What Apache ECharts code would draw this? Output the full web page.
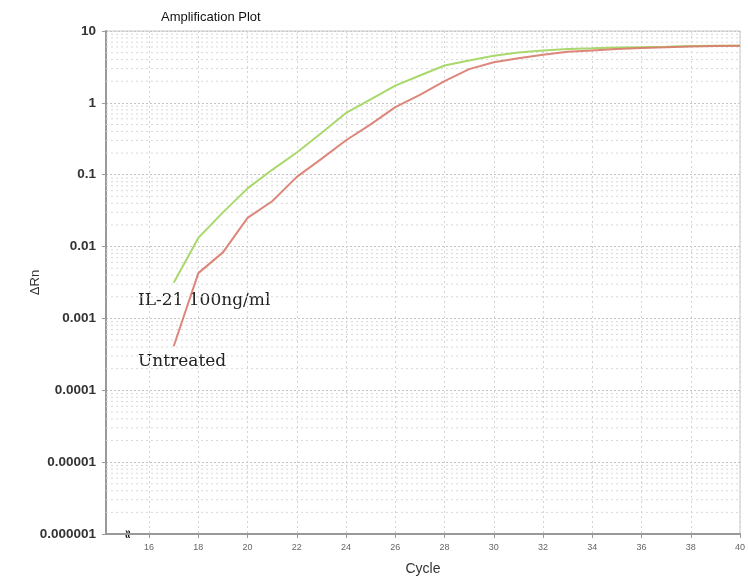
<!DOCTYPE html>
<html><head><meta charset="utf-8">
<script src="https://cdn.jsdelivr.net/npm/echarts@6/dist/echarts.min.js"></script>
<style>html,body{margin:0;padding:0;background:#fff}#c{width:748px;height:583px}</style>
</head><body><div id="c"></div>
<script>
const cycles = [17,18,19,20,21,22,23,24,25,26,27,28,29,30,31,32,33,34,35,36,37,38,39,40];
const il21 = [0.00313,0.0132,0.0299,0.0646,0.117,0.204,0.380,0.724,1.12,1.74,2.40,3.31,3.89,4.52,5.01,5.37,5.62,5.75,5.89,5.96,6.03,6.17,6.21,6.25];
const untreated = [0.00041,0.00427,0.0083,0.0251,0.0427,0.0933,0.166,0.302,0.501,0.871,1.29,2.00,2.95,3.67,4.17,4.68,5.13,5.37,5.62,5.82,5.96,6.10,6.17,6.25];
const xTicks = [16,18,20,22,24,26,28,30,32,34,36,38,40];
const yTickLabels = ['0.000001','0.00001','0.0001','0.001','0.01','0.1','1','10'];
const seriesNames = ['IL-21 100ng/ml','Untreated'];
const X_MIN = 14.25, X_MAX = 40;

const gridSeries = [];
for (let e = -6; e < 1; e++) {
  for (let k = 2; k <= 9; k++) {
    const v = k * Math.pow(10, e);
    gridSeries.push({type: 'line', silent: true, showSymbol: false, z: 1,
      data: [[X_MIN, v], [X_MAX, v]],
      lineStyle: {color: '#d8d8d8', type: [2, 3], width: 1}, tooltip: {show: false}});
  }
}

const chart = echarts.init(document.getElementById('c'));
chart.setOption({
  animation: false,
  backgroundColor: '#fff',
  title: {text: 'Amplification Plot', left: 156, top: 6,
    textStyle: {fontFamily: 'Liberation Sans, Arial', fontSize: 13, fontWeight: 'normal', color: '#111'}},
  grid: {left: 106, right: 8, top: 31, bottom: 49, show: true, borderColor: '#c8c8c8', borderWidth: 1},
  xAxis: {
    type: 'value', min: X_MIN, max: X_MAX,
    name: 'Cycle', nameLocation: 'middle', nameGap: 28,
    nameTextStyle: {fontFamily: 'Liberation Sans, Arial', fontSize: 14, color: '#333'},
    axisLine: {onZero: false, lineStyle: {color: '#999', width: 2}},
    axisTick: {customValues: xTicks, length: 4, lineStyle: {color: '#999'}},
    axisLabel: {customValues: xTicks, fontSize: 9, color: '#666', margin: 9, fontFamily: 'Liberation Sans, Arial'},
    splitLine: {show: true, lineStyle: {color: '#d4d4d4', type: [2, 3]}}
  },
  yAxis: {
    type: 'log', logBase: 10, min: 0.000001, max: 10,
    name: 'ΔRn', nameLocation: 'middle', nameGap: 64, nameRotate: 90, nameMoveOverlap: false,
    nameTextStyle: {fontFamily: 'Liberation Sans, Arial', fontSize: 13, color: '#333'},
    axisLine: {show: true, lineStyle: {color: '#999', width: 2}},
    axisTick: {show: true, length: 4, lineStyle: {color: '#999'}},
    axisLabel: {fontSize: 13.5, fontWeight: 'bold', color: '#333', margin: 10, fontFamily: 'Liberation Sans, Arial',
      formatter: v => yTickLabels[Math.round(Math.log10(v)) + 6]},
    splitLine: {show: true, lineStyle: {color: '#c4c4c4', type: [2, 2]}}
  },
  series: gridSeries.concat([
    {type: 'line', name: seriesNames[0], showSymbol: false, z: 3,
      data: cycles.map((c, i) => [c, il21[i]]),
      lineStyle: {color: '#a9d86c', width: 2}, itemStyle: {color: '#a9d86c'}},
    {type: 'line', name: seriesNames[1], showSymbol: false, z: 4,
      data: cycles.map((c, i) => [c, untreated[i]]),
      lineStyle: {color: '#d97a6c', width: 2, opacity: 0.9}, itemStyle: {color: '#d97a6c'}}
  ]),
  graphic: [
    {type: 'text', left: 138, top: 292, style: {text: seriesNames[0], font: '17px "DejaVu Serif"', fill: '#222'}},
    {type: 'text', left: 138, top: 353, style: {text: seriesNames[1], font: '17px "DejaVu Serif"', fill: '#222'}},
    {type: 'text', x: 121, y: 527, style: {text: '≈', font: 'bold 12px "DejaVu Sans"', fill: '#111'}, rotation: -Math.PI/2, originX: 5, originY: 7}
  ]
});
</script></body></html>
